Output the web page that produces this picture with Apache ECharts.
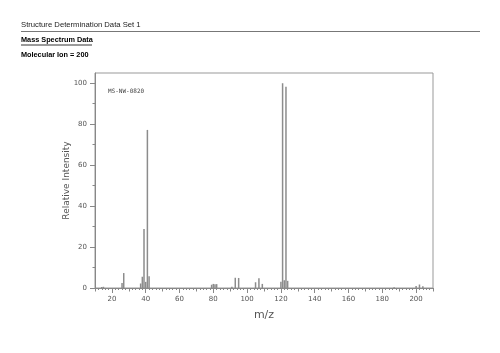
<!DOCTYPE html>
<html><head><meta charset="utf-8">
<script src="https://cdn.jsdelivr.net/npm/echarts@6/dist/echarts.min.js"></script>
<style>html,body{margin:0;padding:0;background:#fff}#c{width:500px;height:353px}</style>
</head><body><div id="c"></div>
<script>
// m/z values and relative intensities
const mzValues =        [14, 15, 26, 27, 37, 38, 39, 40, 41, 42, 79, 80, 81, 82, 91, 93, 95, 105, 107, 109, 120, 121, 122, 123, 124, 187, 200, 202, 204];
const intensityValues = [0.5, 0.6, 2.4, 7.3, 2.2, 5.5, 28.8, 3.0, 77.2, 5.7, 1.6, 2.0, 1.8, 1.9, 0.6, 5.0, 4.9, 2.8, 4.8, 2.0, 3.0, 100, 3.8, 98.3, 3.5, 0.4, 1.0, 1.7, 0.9];
const xTickLabels = [20, 40, 60, 80, 100, 120, 140, 160, 180, 200];
const yTickLabels = [0, 20, 40, 60, 80, 100];
const yMinorTicks = [10, 30, 50, 70, 90];
const xMediumTicks = [10, 30, 50, 70, 90, 110, 130, 150, 170, 190, 210];
const xMinorTicks = [];
for (let v = 12; v <= 208; v += 2) xMinorTicks.push(v);

const data = mzValues.map((m, i) => [m, intensityValues[i]]);
const grey = '#8c8c8c';
const chart = echarts.init(document.getElementById('c'));
chart.setOption({
  animation: false,
  grid: {left: 95, right: 67, top: 73, bottom: 65, show: true, borderColor: '#999', borderWidth: 1},
  graphic: [
    {type: 'text', left: 21, top: 21, style: {text: 'Structure Determination Data Set 1', font: '7.7px "Liberation Sans"', fill: '#222'}},
    {type: 'line', shape: {x1: 21, y1: 31.5, x2: 480, y2: 31.5}, style: {stroke: '#777', lineWidth: 1}},
    {type: 'text', left: 21, top: 36, style: {text: 'Mass Spectrum Data', font: 'bold 7.3px "Liberation Sans"', fill: '#000'}},
    {type: 'line', shape: {x1: 21, y1: 45, x2: 92, y2: 45}, style: {stroke: '#000', lineWidth: 0.8}},
    {type: 'text', left: 21, top: 51, style: {text: 'Molecular Ion = 200', font: 'bold 7.3px "Liberation Sans"', fill: '#000'}},
    {type: 'text', left: 108, top: 88, style: {text: 'MS-NW-0820', font: '6px "DejaVu Sans Mono"', fill: '#444'}}
  ],
  xAxis: [
    {type: 'value', min: 10, max: 210, position: 'bottom',
     name: 'm/z', nameLocation: 'middle', nameGap: 22, nameMoveOverlap: false,
     nameTextStyle: {fontFamily: 'DejaVu Sans', fontSize: 11, color: '#555'},
     axisLine: {lineStyle: {color: '#888'}},
     axisTick: {customValues: xTickLabels, length: 5, lineStyle: {color: '#888'}},
     axisLabel: {customValues: xTickLabels, fontFamily: 'DejaVu Sans', fontSize: 7, color: '#555', margin: 8},
     splitLine: {show: false}},
    {type: 'value', min: 10, max: 210, position: 'bottom',
     axisLine: {show: false},
     axisTick: {customValues: xMediumTicks, length: 3.5, lineStyle: {color: '#888'}},
     axisLabel: {show: false}, splitLine: {show: false}},
    {type: 'value', min: 10, max: 210, position: 'bottom',
     axisLine: {show: false},
     axisTick: {customValues: xMinorTicks, length: 2, lineStyle: {color: '#888'}},
     axisLabel: {show: false}, splitLine: {show: false}}
  ],
  yAxis: [
    {type: 'value', min: 0, max: 105, position: 'left',
     name: 'Relative Intensity', nameLocation: 'middle', nameGap: 24, nameRotate: 90, nameMoveOverlap: false,
     nameTextStyle: {fontFamily: 'DejaVu Sans', fontSize: 9, color: '#555'},
     axisLine: {show: true, lineStyle: {color: '#888'}},
     axisTick: {show: true, customValues: yTickLabels, length: 5, lineStyle: {color: '#888'}},
     axisLabel: {customValues: yTickLabels, fontFamily: 'DejaVu Sans', fontSize: 7, color: '#555', margin: 8},
     splitLine: {show: false}},
    {type: 'value', min: 0, max: 105, position: 'left',
     axisLine: {show: false},
     axisTick: {show: true, customValues: yMinorTicks, length: 2.5, lineStyle: {color: '#888'}},
     axisLabel: {show: false}, splitLine: {show: false}}
  ],
  series: [{
    type: 'bar', xAxisIndex: 0, yAxisIndex: 0, data: data,
    barWidth: 1.5, itemStyle: {color: grey}, silent: true
  }]
});
</script></body></html>
